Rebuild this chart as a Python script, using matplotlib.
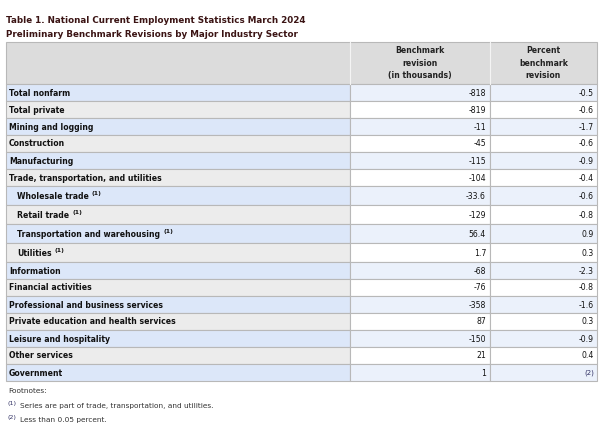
import matplotlib.pyplot as plt
from matplotlib.patches import Rectangle

# Datos de la tabla
sectors = ['Total nonfarm', 'Total private', 'Mining and logging', 'Construction',
           'Manufacturing', 'Trade, transportation, and utilities',
           'Wholesale trade', 'Retail trade', 'Transportation and warehousing',
           'Utilities', 'Information', 'Financial activities',
           'Professional and business services', 'Private education and health services',
           'Leisure and hospitality', 'Other services', 'Government']
revision = ['-818', '-819', '-11', '-45', '-115', '-104', '-33.6', '-129', '56.4',
            '1.7', '-68', '-76', '-358', '87', '-150', '21', '1']
percent = ['-0.5', '-0.6', '-1.7', '-0.6', '-0.9', '-0.4', '-0.6', '-0.8', '0.9',
           '0.3', '-2.3', '-0.8', '-1.6', '0.3', '-0.9', '0.4', '(2)']
sub_rows = [6, 7, 8, 9]  # filas con sangria y nota (1)

title1 = 'Table 1. National Current Employment Statistics March 2024'
title2 = 'Preliminary Benchmark Revisions by Major Industry Sector'
col_headers = ['Benchmark\nrevision\n(in thousands)', 'Percent\nbenchmark\nrevision']

fig = plt.figure(figsize=(6, 4.25), dpi=100)
ax = fig.add_axes([0, 0, 1, 1])
ax.set_xlim(0, 600)
ax.set_ylim(425, 0)
ax.axis('off')

# columnas
x0, x1, x2, x3 = 6, 350, 490, 597
borde = '#b8b8b8'
fs = 5.6

ax.text(6, 20, title1, fontsize=6.3, fontweight='bold', color='#3b1414', va='center')
ax.text(6, 34, title2, fontsize=6.3, fontweight='bold', color='#3b1414', va='center')

# encabezado
y_top, y_head = 42, 84
ax.add_patch(Rectangle((x0, y_top), x3 - x0, y_head - y_top, fc='#dcdcdc', ec=borde, lw=0.8))
ax.plot([x1, x1], [y_top, y_head], color='#f4f4f4', lw=0.8)
ax.plot([x2, x2], [y_top, y_head], color='#f4f4f4', lw=0.8)
ax.text((x1 + x2) / 2, 63, col_headers[0], ha='center', va='center', fontsize=fs,
        fontweight='bold', color='#222222', linespacing=1.45)
ax.text((x2 + x3) / 2, 63, col_headers[1], ha='center', va='center', fontsize=fs,
        fontweight='bold', color='#222222', linespacing=1.45)

fig.canvas.draw()
rend = fig.canvas.get_renderer()

y = y_head
for i, name in enumerate(sectors):
    h = 19 if i in sub_rows else 17
    par = i % 2 == 0
    c_lab = '#dce7f9' if par else '#ececec'
    c_val = '#ebf1fb' if par else '#ffffff'
    ax.add_patch(Rectangle((x0, y), x1 - x0, h, fc=c_lab, ec=borde, lw=0.8))
    ax.add_patch(Rectangle((x1, y), x2 - x1, h, fc=c_val, ec=borde, lw=0.8))
    ax.add_patch(Rectangle((x2, y), x3 - x2, h, fc=c_val, ec=borde, lw=0.8))
    yc = y + h / 2 + 0.5
    xl = 17 if i in sub_rows else 9
    t = ax.text(xl, yc, name, fontsize=fs, fontweight='bold', color='#111111', va='center')
    if i in sub_rows:
        bb = t.get_window_extent(rend)
        xe = ax.transData.inverted().transform((bb.x1, bb.y0))[0]
        ax.text(xe + 3, yc - 3, '(1)', fontsize=4.5, fontweight='bold', color='#111111', va='center')
    ax.text(x2 - 4, yc, revision[i], fontsize=fs, ha='right', va='center', color='#111111')
    if percent[i] == '(2)':
        ax.text(x3 - 3, yc, percent[i], fontsize=5.0, ha='right', va='center', color='#333366')
    else:
        ax.text(x3 - 3, yc, percent[i], fontsize=fs, ha='right', va='center', color='#111111')
    y += h

# notas al pie
fn = 5.3
ax.text(8, y + 10, 'Footnotes:', fontsize=fn, va='center', color='#333333')
ax.text(8, y + 23, '(1)', fontsize=4.6, va='center', color='#333366')
ax.text(20, y + 25, 'Series are part of trade, transportation, and utilities.', fontsize=fn,
        va='center', color='#333333')
ax.text(8, y + 37, '(2)', fontsize=4.6, va='center', color='#333366')
ax.text(20, y + 39, 'Less than 0.05 percent.', fontsize=fn, va='center', color='#333333')

fig.savefig('out.png', dpi=100)
